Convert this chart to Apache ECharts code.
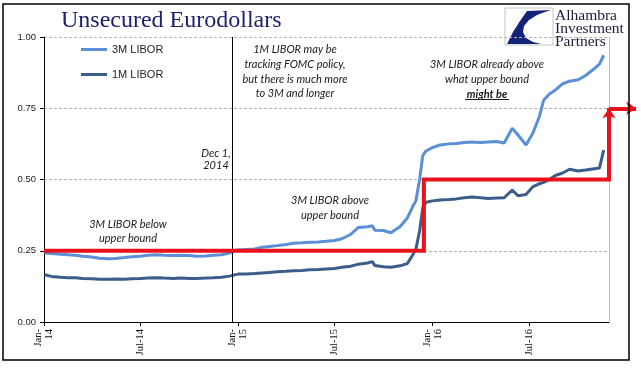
<!DOCTYPE html>
<html>
<head>
<meta charset="utf-8">
<script src="https://cdn.jsdelivr.net/npm/echarts@6/dist/echarts.min.js"></script>
<style>
html, body { margin: 0; padding: 0; background: #fff; }
#chart { width: 641px; height: 375px; }
</style>
</head>
<body>
<div id="chart"></div>
<script>
// roughly twice a month
const dates = [
  '2014-01-02','2014-01-15','2014-02-01','2014-02-15','2014-03-01','2014-03-15','2014-04-01','2014-04-15',
  '2014-05-01','2014-05-15','2014-06-01','2014-06-15','2014-07-01','2014-07-15','2014-08-01','2014-08-15',
  '2014-09-01','2014-09-15','2014-10-01','2014-10-15','2014-11-01','2014-11-15','2014-12-01','2014-12-15',
  '2015-01-01','2015-01-15','2015-02-01','2015-02-15','2015-03-01','2015-03-15','2015-04-01','2015-04-15',
  '2015-05-01','2015-05-15','2015-06-01','2015-06-15','2015-07-01','2015-07-15','2015-08-01','2015-08-15',
  '2015-09-01','2015-09-10','2015-09-15','2015-10-01','2015-10-15','2015-11-01','2015-11-15','2015-11-25',
  '2015-12-01','2015-12-08','2015-12-14','2015-12-20','2016-01-01','2016-01-15','2016-02-01','2016-02-15',
  '2016-03-01','2016-03-15','2016-04-01','2016-04-15','2016-05-01','2016-05-15','2016-05-30','2016-06-10',
  '2016-06-25','2016-07-08','2016-07-20','2016-07-28','2016-08-08','2016-08-20','2016-09-01','2016-09-15',
  '2016-10-01','2016-10-15','2016-11-01','2016-11-10','2016-11-18'
];
const libor3m = [
  0.242,0.240,0.238,0.236,0.234,0.231,0.228,0.224,
  0.222,0.223,0.226,0.229,0.231,0.234,0.236,0.234,
  0.233,0.234,0.233,0.231,0.232,0.234,0.236,0.242,
  0.253,0.254,0.256,0.262,0.265,0.268,0.272,0.276,
  0.278,0.280,0.281,0.283,0.286,0.292,0.308,0.332,
  0.334,0.338,0.322,0.321,0.313,0.334,0.365,0.405,
  0.425,0.500,0.585,0.600,0.612,0.621,0.625,0.626,
  0.630,0.632,0.630,0.632,0.633,0.628,0.680,0.656,
  0.621,0.663,0.720,0.778,0.800,0.815,0.835,0.845,
  0.850,0.865,0.890,0.905,0.936
];
const libor1m = [
  0.166,0.160,0.157,0.155,0.155,0.153,0.152,0.150,
  0.150,0.151,0.150,0.152,0.153,0.154,0.155,0.154,
  0.153,0.154,0.153,0.153,0.154,0.155,0.157,0.161,
  0.168,0.168,0.170,0.172,0.174,0.176,0.178,0.180,
  0.181,0.183,0.184,0.186,0.188,0.192,0.196,0.203,
  0.207,0.212,0.198,0.194,0.192,0.197,0.205,0.235,
  0.255,0.320,0.400,0.420,0.425,0.428,0.430,0.432,
  0.436,0.439,0.436,0.433,0.435,0.436,0.463,0.443,
  0.447,0.475,0.485,0.490,0.500,0.515,0.522,0.536,
  0.530,0.533,0.538,0.540,0.603
];

// upper bound of the fed funds target, then the expected step (arrows)
const boundDates = ['2014-01-01','2015-12-16','2015-12-16','2016-11-28','2016-11-28'];
const boundValues = [0.25, 0.25, 0.50, 0.50, 0.75];
const arrowDates = ['2016-11-28','2016-11-28','2017-01-18'];
const arrowValues = [0.50, 0.75, 0.75];

const xTicks = ['2014-01-01','2014-07-01','2015-01-01','2015-07-01','2016-01-01','2016-07-01'];
const xStart = '2014-01-01';
const xEnd = '2016-11-28';
const markerDate = '2014-12-20';

const t = s => new Date(s).getTime();
const pairs = (xs, ys) => xs.map((d, i) => [t(d), ys[i]]);
const segments = (xs, ys) => xs.slice(1).map((d, i) => ({ coords: [[t(xs[i]), ys[i]], [t(d), ys[i + 1]]] }));

const c3m = '#5b8fd6';
const c1m = '#3b5d8a';
const red = '#e8121c';
const noteFont = 'italic 11px Lato';

const chart = echarts.init(document.getElementById('chart'));
chart.setOption({
  animation: false,
  backgroundColor: '#fff',
  title: {
    text: 'Unsecured Eurodollars',
    left: 61, top: 9, padding: 0,
    textStyle: { fontFamily: 'Liberation Serif', fontSize: 24, fontWeight: 'normal', color: '#1d1f6e' }
  },
  legend: {
    data: [{ name: '3M LIBOR', icon: 'rect' }, { name: '1M LIBOR', icon: 'rect' }],
    orient: 'vertical',
    left: 81, top: 44, padding: 0,
    itemWidth: 26, itemHeight: 3, itemGap: 14,
    textStyle: { fontFamily: 'Liberation Sans', fontSize: 11, color: '#222' }
  },
  grid: { left: 44, right: 32, top: 37, bottom: 53, outerBoundsMode: 'none' },
  xAxis: {
    type: 'value',
    min: t(xStart), max: t(xEnd),
    axisLine: { lineStyle: { color: '#000', width: 1 } },
    axisTick: { show: true, length: 4, lineStyle: { color: '#000' }, customValues: xTicks.map(t) },
    splitLine: { show: false },
    axisLabel: {
      customValues: xTicks.map(t),
      rotate: 90, margin: 7,
      fontFamily: 'Liberation Serif', fontSize: 10.5, color: '#111', lineHeight: 11,
      formatter: v => {
        const d = new Date(v);
        const yy = String(d.getUTCFullYear()).slice(2);
        return d.getUTCMonth() === 0 ? 'Jan-\n' + yy : 'Jul-' + yy;
      }
    }
  },
  yAxis: [{
    type: 'value', min: 0, max: 1, interval: 0.25,
    axisLine: { show: true, lineStyle: { color: '#000', width: 1 } },
    axisTick: { show: true, length: 4, lineStyle: { color: '#000' } },
    axisLabel: { fontFamily: 'Liberation Sans', fontSize: 9.5, color: '#222', margin: 8, formatter: v => v.toFixed(2) },
    splitLine: { show: true, lineStyle: { color: '#b4b4b4', type: [3, 2], width: 1 } }
  }, {
    type: 'value', min: 0, max: 1, position: 'right',
    axisLine: { show: true, lineStyle: { color: '#c0c0c0', width: 1 } },
    axisTick: { show: false }, axisLabel: { show: false }, splitLine: { show: false }
  }],
  series: [{
    name: '3M LIBOR', type: 'line', symbol: 'none', z: 3,
    data: pairs(dates, libor3m),
    lineStyle: { color: c3m, width: 3 }, itemStyle: { color: c3m },
    markLine: {
      silent: true, symbol: 'none', label: { show: false },
      lineStyle: { color: '#000', width: 1, type: 'solid' },
      data: [{ xAxis: t(markerDate) }]
    }
  }, {
    name: '1M LIBOR', type: 'line', symbol: 'none', z: 3,
    data: pairs(dates, libor1m),
    lineStyle: { color: c1m, width: 3 }, itemStyle: { color: c1m }
  }, {
    type: 'lines', coordinateSystem: 'cartesian2d', polyline: true, clip: false, silent: true, z: 5,
    symbol: 'none',
    lineStyle: { color: red, width: 4, opacity: 1 },
    data: [{ coords: pairs(boundDates, boundValues) }]
  }, {
    type: 'lines', coordinateSystem: 'cartesian2d', clip: false, silent: true, z: 5,
    symbol: ['none', 'arrow'], symbolSize: 10,
    lineStyle: { color: red, width: 4, opacity: 1 },
    data: segments(arrowDates, arrowValues)
  }],
  graphic: [
    { type: 'text', x: 295, y: 42.5, style: { text: '1M LIBOR may be\ntracking FOMC policy,\nbut there is much more\nto 3M and longer', font: noteFont, fill: '#1a1a1a', align: 'center', verticalAlign: 'top', lineHeight: 14.7 } },
    { type: 'text', x: 487, y: 56.5, style: { text: '3M LIBOR already above\nwhat upper bound', font: noteFont, fill: '#1a1a1a', align: 'center', verticalAlign: 'top', lineHeight: 15 } },
    { type: 'text', x: 487, y: 86.5, style: { text: 'might be', font: 'italic bold 11px Lato', fill: '#1a1a1a', align: 'center', verticalAlign: 'top', lineHeight: 15 } },
    { type: 'line', shape: { x1: 465, y1: 99.5, x2: 509, y2: 99.5 }, style: { stroke: '#1a1a1a', lineWidth: 1 } },
    { type: 'text', x: 216, y: 147, style: { text: 'Dec 1,\n2014', font: noteFont, fill: '#1a1a1a', align: 'center', verticalAlign: 'top', lineHeight: 12 } },
    { type: 'text', x: 330, y: 193.5, style: { text: '3M LIBOR above\nupper bound', font: noteFont, fill: '#1a1a1a', align: 'center', verticalAlign: 'top', lineHeight: 14.5 } },
    { type: 'text', x: 128, y: 217, style: { text: '3M LIBOR below\nupper bound', font: noteFont, fill: '#1a1a1a', align: 'center', verticalAlign: 'top', lineHeight: 14 } },
    // logo
    { type: 'rect', shape: { x: 505, y: 8, width: 48, height: 37 }, style: { fill: '#fff', stroke: '#c4c4c4', lineWidth: 1 } },
    { type: 'polygon', shape: { points: [[551,10],[527,11],[520,21],[513,32],[507,44],[541,44],[533,42],[526,38],[523,32],[524,26],[529,20],[537,15],[545,12]] }, style: { fill: '#14237a' } },
    { type: 'text', x: 555, y: 9, style: { text: 'Alhambra\nInvestment\nPartners', font: '15.5px "Liberation Serif"', fill: '#1b1b3a', verticalAlign: 'top', lineHeight: 13 } },
    // frame
    { type: 'rect', z: 100, shape: { x: 3, y: 4, width: 626, height: 356 }, style: { fill: 'none', stroke: '#000', lineWidth: 1.5 } }
  ]
});
</script>
</body>
</html>
